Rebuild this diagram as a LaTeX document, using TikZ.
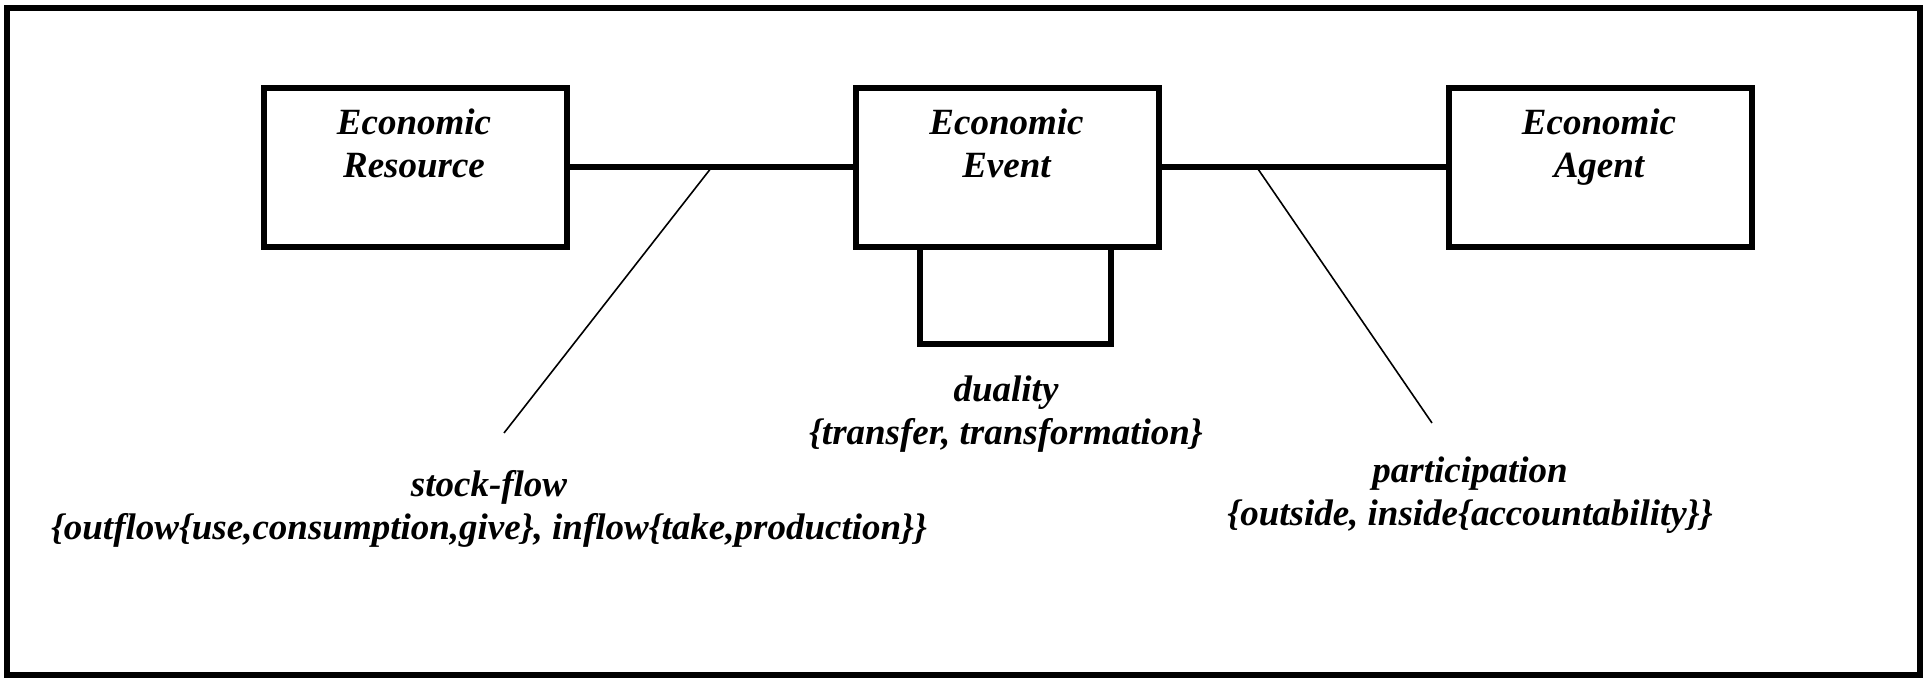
\documentclass[tikz,border=0pt]{standalone}
\usepackage{fontspec}
\setmainfont{Liberation Serif}
\usetikzlibrary{calc}
\begin{document}
\begin{tikzpicture}[x=0.5pt,y=-0.5pt,
  entity/.style={draw, line width=3pt, minimum width=151.5pt, minimum height=79.5pt, inner sep=0pt},
  tie/.style={line width=3pt},
  lead/.style={line width=0.8pt},
  lbl/.style={font=\bfseries\itshape\fontsize{18.5}{21.5}\selectfont, align=center, anchor=base, inner sep=0pt}]
\useasboundingbox (0,0) rectangle (1929,678);
% outer frame
\draw[line width=2.75pt] (7,8) rectangle (1920,675);

% the three entities
\node[entity] (res) at (415.5,167.5) {};
\node[entity] (evt) at (1007.5,167.5) {};
\node[entity] (agt) at (1600,167.5) {};
% names (anchored on the baseline of the last line)
\node[lbl] (resT) at (414,178) {Economic\\Resource};
\node[lbl] (evtT) at (1006.5,178) {Economic\\Event};
\node[lbl] (agtT) at (1599,178) {Economic\\Agent};

% relationships
\draw[tie] (res.east) -- (evt.west);
\draw[tie] (evt.east) -- (agt.west);

% recursive duality loop below the event
\coordinate (dA) at (920,247);
\coordinate (dB) at (920,344);
\coordinate (dC) at (1111,344);
\coordinate (dD) at (1111,247);
\draw[tie] (dA) -- (dB) -- (dC) -- (dD);

% leader lines to the relationship names
\coordinate (sfTop) at ($(res.east)!0.5!(evt.west)$);
\coordinate (sfEnd) at (504,433);
\coordinate (paTop) at ($(evt.east)!0.335!(agt.west)$);
\coordinate (paEnd) at (1432,423);
\draw[lead] (sfTop) -- (sfEnd);
\draw[lead] (paTop) -- (paEnd);

% relationship names
\node[lbl] (sfT) at (489,540) {stock-flow\\\{outflow\{use,consumption,give\}, inflow\{take,production\}\}};
\node[lbl] (duT) at (1006,445) {duality\\\{transfer, transformation\}};
\node[lbl] (paT) at (1470,526) {participation\\\{outside, inside\{accountability\}\}};
\end{tikzpicture}
\end{document}
